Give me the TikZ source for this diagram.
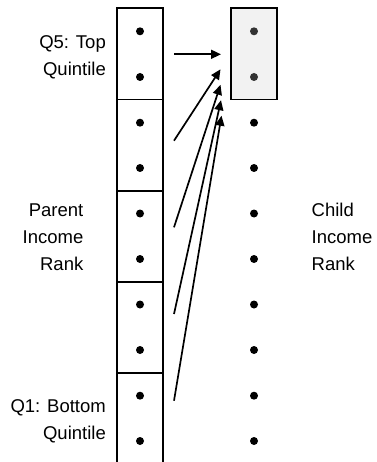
\documentclass[tikz,border=0pt]{standalone}
\usepackage{fontspec}
\setmainfont{Liberation Sans}
\usetikzlibrary{arrows.meta}
\definecolor{boxfill}{HTML}{F2F2F2}
\tikzset{
  dotnode/.style={circle,fill=black,inner sep=0pt,minimum size=8pt},
  graydot/.style={circle,fill=black!80,inner sep=0pt,minimum size=8pt},
  boxline/.style={line width=1.9pt},
  lbl/.style={inner sep=0pt,font=\fontsize{18.5}{27}\selectfont},
  arr/.style={line width=1.7pt,-{Triangle[length=10pt,width=9pt]}}
}
\begin{document}
\begin{tikzpicture}[x=1pt,y=-1pt]
\useasboundingbox (0,0) rectangle (376,462);
% left column of boxes
\foreach \t/\b in {8.3/99.5,99.5/190.7,190.7/281.7,281.7/372.7}{
  \draw[boxline] (117,\t) rectangle (163,\b);
}
\draw[boxline] (117,372.7) -- (117,463) (163,372.7) -- (163,463);
% right shaded box
\draw[boxline,fill=boxfill] (231,8.3) rectangle (276.7,99.5);
% dots
\foreach \i/\y in {1/31.3,2/77,3/122.7,4/168,5/213.5,6/259,7/304.5,8/350,9/395.7,10/441}{
  \node[dotnode] (p\i) at (140,\y) {};
}
\node[graydot] (c1) at (254,31.3) {};
\node[graydot] (c2) at (254,77) {};
\foreach \i/\y in {3/122.7,4/168,5/213.5,6/259,7/304.5,8/350,9/395.7,10/441}{
  \node[dotnode] (c\i) at (254,\y) {};
}
% arrows
\coordinate (s0) at (174,54.3);
\coordinate (e0) at (221,54.3);
\coordinate (s1) at (174,140.7);
\coordinate (e1) at (220.5,69.3);
\coordinate (s2) at (174,227.3);
\coordinate (e2) at (220.5,84.8);
\coordinate (s3) at (174,314);
\coordinate (e3) at (221,100.2);
\coordinate (s4) at (174,400.7);
\coordinate (e4) at (221.5,115.7);
\draw[arr] (s0) -- (e0);
\draw[arr] (s1) -- (e1);
\draw[arr] (s2) -- (e2);
\draw[arr] (s3) -- (e3);
\draw[arr] (s4) -- (e4);
% labels
\node[lbl,anchor=base east] (q5a) at (106,48.3) {Q5: Top};
\node[lbl,anchor=base east] (q5b) at (106,75.3) {Quintile};
\node[lbl,anchor=base east] (pa) at (83.5,216.7) {Parent};
\node[lbl,anchor=base east] (pb) at (83.5,243.7) {Income};
\node[lbl,anchor=base east] (pc) at (83.5,270.7) {Rank};
\node[lbl,anchor=base west] (ca) at (311.5,216.7) {Child};
\node[lbl,anchor=base west] (cb) at (311.5,243.7) {Income};
\node[lbl,anchor=base west] (cc) at (311.5,270.7) {Rank};
\node[lbl,anchor=base east] (q1a) at (106,412.3) {Q1: Bottom};
\node[lbl,anchor=base east] (q1b) at (106,439.3) {Quintile};
\end{tikzpicture}
\end{document}
